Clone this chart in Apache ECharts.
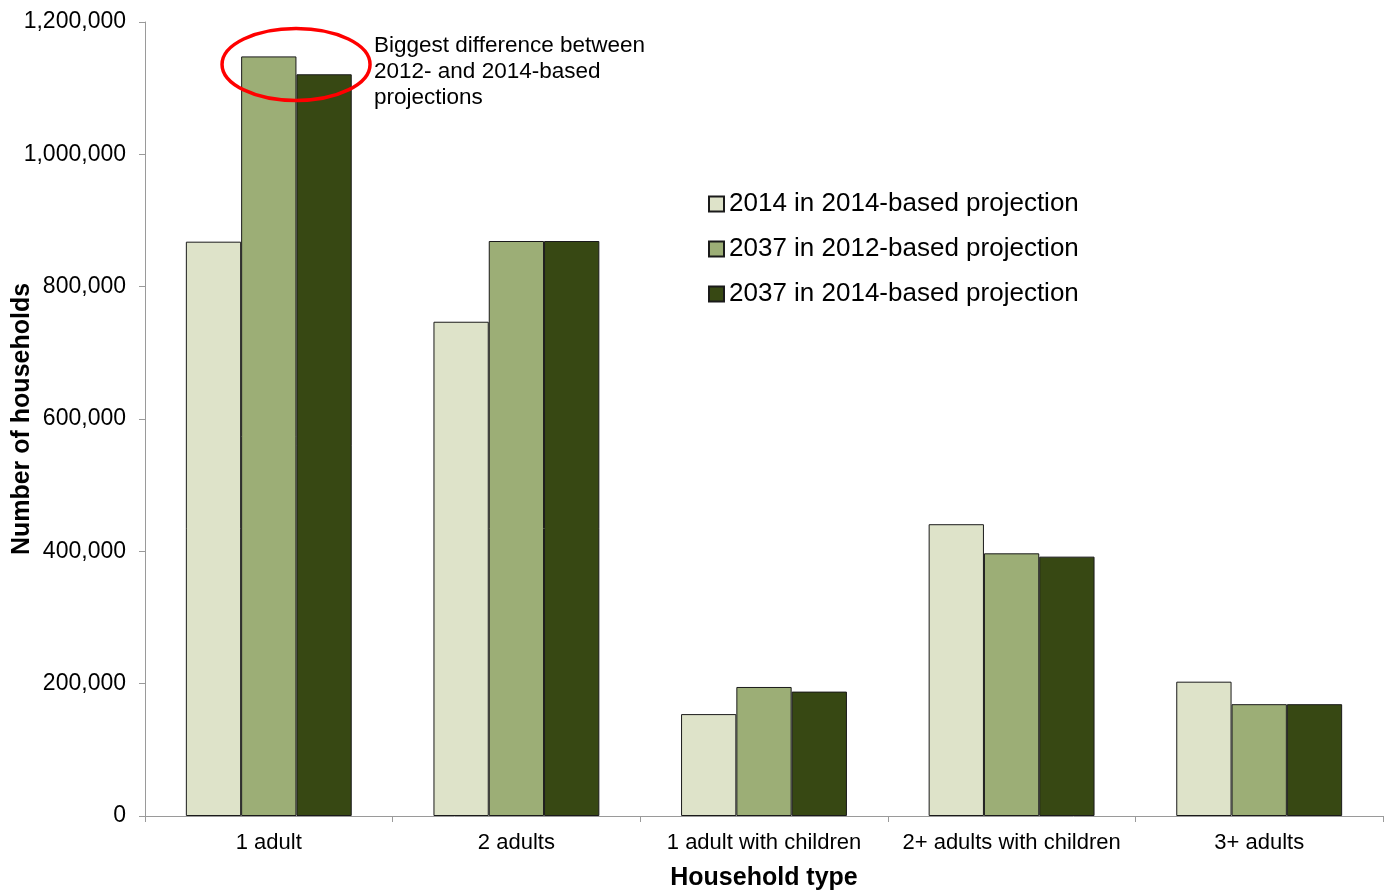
<!DOCTYPE html>
<html>
<head>
<meta charset="utf-8">
<style>
  html, body { margin: 0; padding: 0; background: #fff; }
  #chart { width: 1387px; height: 895px; }
</style>
<script src="https://cdn.jsdelivr.net/npm/echarts@6/dist/echarts.min.js"></script>
</head>
<body>
<div id="chart"></div>
<script>
// Household counts by type
const categories = ['1 adult', '2 adults', '1 adult with children', '2+ adults with children', '3+ adults'];
const seriesNames = ['2014 in 2014-based projection', '2037 in 2012-based projection', '2037 in 2014-based projection'];
const base2014 = [868000, 747000, 154000, 441000, 203000];
const proj2012for2037 = [1148000, 869000, 195000, 397000, 169000];
const proj2014for2037 = [1121000, 869000, 188000, 392000, 169000];
const yTicks = [0, 200000, 400000, 600000, 800000, 1000000, 1200000];
const noteText = 'Biggest difference between\n2012- and 2014-based\nprojections';

const colors = ['#DEE3C9', '#9CAE76', '#374813'];
const FONT = '"Liberation Sans", Arial, sans-serif';

function withCommas(v) {
  return String(v).replace(/\B(?=(\d{3})+(?!\d))/g, ',');
}

const chart = echarts.init(document.getElementById('chart'), null, { renderer: 'canvas' });

const values = [base2014, proj2012for2037, proj2014for2037];

chart.setOption({
  animation: false,
  backgroundColor: '#ffffff',
  color: colors,
  grid: { left: 145, right: 4, top: 22, bottom: 79, containLabel: false, outerBoundsMode: 'none' },
  legend: {
    orient: 'vertical',
    left: 703,
    top: 186,
    itemWidth: 15,
    itemHeight: 15,
    itemGap: 19,
    icon: 'rect',
    textStyle: { fontFamily: FONT, fontSize: 26, color: '#000' },
    data: seriesNames
  },
  xAxis: {
    type: 'category',
    data: categories,
    name: 'Household type',
    nameLocation: 'middle',
    nameGap: 50,
    nameMoveOverlap: false,
    nameTextStyle: { fontFamily: FONT, fontSize: 25, fontWeight: 'bold', color: '#000' },
    axisLine: { lineStyle: { color: '#9a9a9a', width: 1 } },
    axisTick: { show: true, alignWithLabel: false, length: 6, lineStyle: { color: '#9a9a9a' } },
    axisLabel: { fontFamily: FONT, fontSize: 22, color: '#000', margin: 16, interval: 0, hideOverlap: false }
  },
  yAxis: {
    type: 'value',
    min: yTicks[0],
    max: yTicks[yTicks.length - 1],
    interval: yTicks[1] - yTicks[0],
    name: 'Number of households',
    nameLocation: 'middle',
    nameGap: 110,
    nameMoveOverlap: false,
    nameRotate: 90,
    nameTextStyle: { fontFamily: FONT, fontSize: 25, fontWeight: 'bold', color: '#000' },
    splitLine: { show: false },
    axisLine: { show: true, lineStyle: { color: '#9a9a9a', width: 1 } },
    axisTick: { show: true, length: 6, lineStyle: { color: '#9a9a9a' } },
    axisLabel: { fontFamily: FONT, fontSize: 23, color: '#000', margin: 19, formatter: withCommas }
  },
  series: seriesNames.map((name, i) => ({
    name: name,
    type: 'bar',
    data: values[i],
    barGap: '0%',
    barCategoryGap: '33%',
    itemStyle: { color: colors[i], borderColor: '#1a1a1a', borderWidth: 1 }
  }))
});

// Callout: ellipse around the two 2037 bars for "1 adult", plus its note
const tip = chart.convertToPixel({ xAxisIndex: 0, yAxisIndex: 0 }, [0, proj2012for2037[0]]);
const bandW = chart.convertToPixel({ xAxisIndex: 0 }, 1) - chart.convertToPixel({ xAxisIndex: 0 }, 0);
const cx = tip[0] + bandW * 0.11;
const cy = tip[1] + 8;

chart.setOption({
  graphic: [
    {
      type: 'ellipse',
      shape: { cx: cx, cy: cy, rx: 74, ry: 36 },
      style: { fill: 'none', stroke: '#ff0000', lineWidth: 3.5 },
      z: 100
    },
    {
      type: 'text',
      left: cx + 78,
      top: 33,
      style: {
        text: noteText,
        fontFamily: FONT,
        fontSize: 22.5,
        lineHeight: 26,
        fill: '#000'
      },
      z: 100
    }
  ]
});
</script>
</body>
</html>
